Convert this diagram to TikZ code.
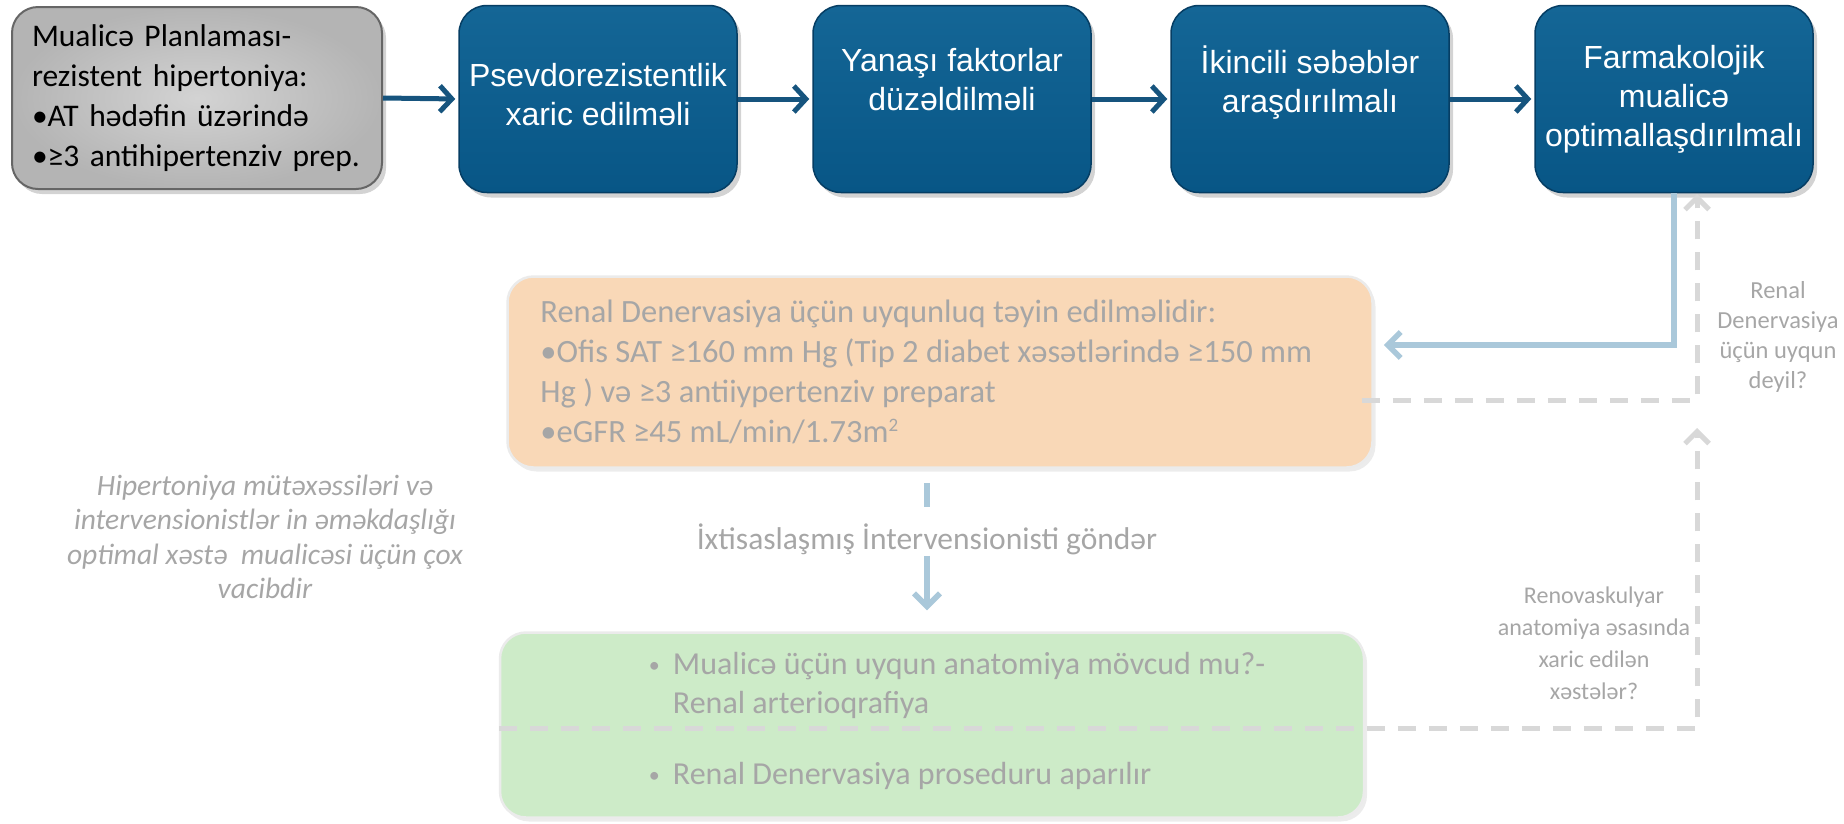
\documentclass[tikz,border=0pt]{standalone}
\usepackage{fontspec}
\setmainfont{Carlito}
\newfontfamily\arialfont{Liberation Sans}
\usetikzlibrary{arrows.meta,shadows,positioning}

\definecolor{boxblue}{RGB}{8,86,134}
\definecolor{boxbluetop}{RGB}{20,102,150}
\definecolor{boxedge}{RGB}{6,62,100}
\definecolor{arrowblue}{RGB}{22,84,126}
\definecolor{lineblue}{RGB}{170,200,218}
\definecolor{dashgrey}{RGB}{216,216,216}
\definecolor{textgrey}{RGB}{166,166,166}
\definecolor{peach}{RGB}{249,216,183}
\definecolor{mint}{RGB}{205,235,200}
\definecolor{critgrey}{RGB}{200,200,200}

\newcommand{\smallbul}{\makebox[24pt][l]{\fontsize{22pt}{22pt}\selectfont\raisebox{2pt}{•}}}

\begin{document}
\begin{tikzpicture}[x=1pt,y=-1pt,
  bluebox/.style={rectangle,rounded corners=28pt,minimum width=278pt,minimum height=187pt,
    top color=boxbluetop,bottom color=boxblue,draw=boxedge,line width=1.5pt,
    text=white,align=center,font=\arialfont\fontsize{32pt}{39pt}\selectfont,
    drop shadow={shadow xshift=4pt,shadow yshift=-5pt,opacity=0.35}},
  critbox/.style={rectangle,rounded corners=26pt,minimum height=182pt,text width=330pt,inner xsep=20pt,
    inner color=critgrey!80!white,outer color=critgrey!90!black,draw=gray!80!black,line width=2pt,
    align=left,font=\fontsize{31.5pt}{40pt}\selectfont,
    drop shadow={shadow xshift=4pt,shadow yshift=-5pt,opacity=0.35}},
  softbox/.style={rectangle,rounded corners=26pt,draw=black!8,line width=2.5pt,
    drop shadow={shadow xshift=3pt,shadow yshift=-4pt,opacity=0.15}},
  greytext/.style={text=textgrey,align=center,inner sep=0pt},
  flowarrow/.style={arrowblue,line width=5pt,-{Straight Barb[length=12pt,width=26pt]},shorten >=3pt},
  backline/.style={lineblue,line width=5.5pt},
  dashline/.style={dashgrey,line width=5pt,dash pattern=on 18pt off 13pt,-{Straight Barb[length=12pt,width=24pt]}}]
  \useasboundingbox (0,0) rectangle (1844,823);

  % Steps
  \node[critbox] (crit) at (197,98) {Mualicə Planlaması-\\rezistent hipertoniya:\\•AT hədəfin üzərində\\•≥3 antihipertenziv prep.};
  \node[bluebox] (pseudo) at (598,99) {Psevdorezistentlik\\xaric edilməli\\[-29pt]\mbox{}};
  \node[bluebox] (factors) at (952,99) {Yanaşı faktorlar\\düzəldilməli\\\mbox{}};
  \node[bluebox] (second) at (1310,99) {İkincili səbəblər\\araşdırılmalı\\\mbox{}};
  \node[bluebox] (pharm) at (1674,99) {Farmakolojik\\mualicə\\optimallaşdırılmalı};

  % Renal denervation
  \node[softbox,fill=peach,minimum width=865pt,minimum height=191pt] (elig) at (940,372) {};
  \node[greytext,align=left,font=\fontsize{32.5pt}{40pt}\selectfont,right=34pt of elig.west] (eligtxt) {Renal Denervasiya üçün uyqunluq təyin edilməlidir:\\•Ofis SAT ≥160 mm Hg (Tip 2 diabet xəsətlərində ≥150 mm\\Hg ) və ≥3 antiiypertenziv preparat\\•eGFR ≥45 mL/min/1.73m\raisebox{11pt}{\fontsize{19pt}{19pt}\selectfont 2}};
  \node[softbox,fill=mint,minimum width=864pt,minimum height=185pt] (anat) at (932,725) {};
  \node[greytext,align=left,font=\fontsize{32pt}{39pt}\selectfont,right=150pt of anat.west,yshift=4pt] (anattxt) {\smallbul Mualicə üçün uyqun anatomiya mövcud mu?-\\\hspace*{24pt}Renal arterioqrafiya\\[32pt]\smallbul Renal Denervasiya proseduru aparılır};

  % Referral
  \node[greytext,font=\fontsize{31.5pt}{36pt}\selectfont] (refer) at (927,539) {İxtisaslaşmış İntervensionisti göndər};
  \draw[backline,shorten <=14pt,shorten >=16pt] (elig.south -| refer.north) -- (refer.north);
  \draw[backline,-{Straight Barb[length=13pt,width=26pt]},shorten <=1pt,shorten >=21pt] (refer.south) -- (refer.south |- anat.north);

  % Notes
  \node[greytext,font=\fontsize{24.5pt}{30pt}\selectfont] (notelig) at (1778,337) {Renal\\Denervasiya\\üçün uyqun\\deyil?};
  \node[greytext,font=\fontsize{24pt}{32pt}\selectfont] (excl) at (1594,643) {Renovaskulyar\\anatomiya əsasında\\xaric edilən\\xəstələr?};
  \node[greytext,font=\itshape\fontsize{29.5pt}{34.5pt}\selectfont] (collab) at (265,537) {Hipertoniya mütəxəssiləri və\\intervensionistlər in əməkdaşlığı\\optimal xəstə\ \ mualicəsi üçün çox\\vacibdir};

  % Flow
  \draw[flowarrow] (crit.east) -- (pseudo.west);
  \draw[flowarrow] (pseudo.east) -- (factors.west);
  \draw[flowarrow] (factors.east) -- (second.west);
  \draw[flowarrow] (second.east) -- (pharm.west);

  % Feedback
  \coordinate (backtop) at (1697,194);
  \coordinate (backmid) at (1697,428);
  \draw[backline,-{Straight Barb[length=13pt,width=26pt]},shorten >=10pt] (pharm.south) |- ([yshift=27pt]elig.east);
  \draw[dashline] ([xshift=-12pt,yshift=-28pt]elig.east) -| (backtop);
  \draw[dashline] ([yshift=-3pt]anat.west) -| (backmid);
\end{tikzpicture}
\end{document}
